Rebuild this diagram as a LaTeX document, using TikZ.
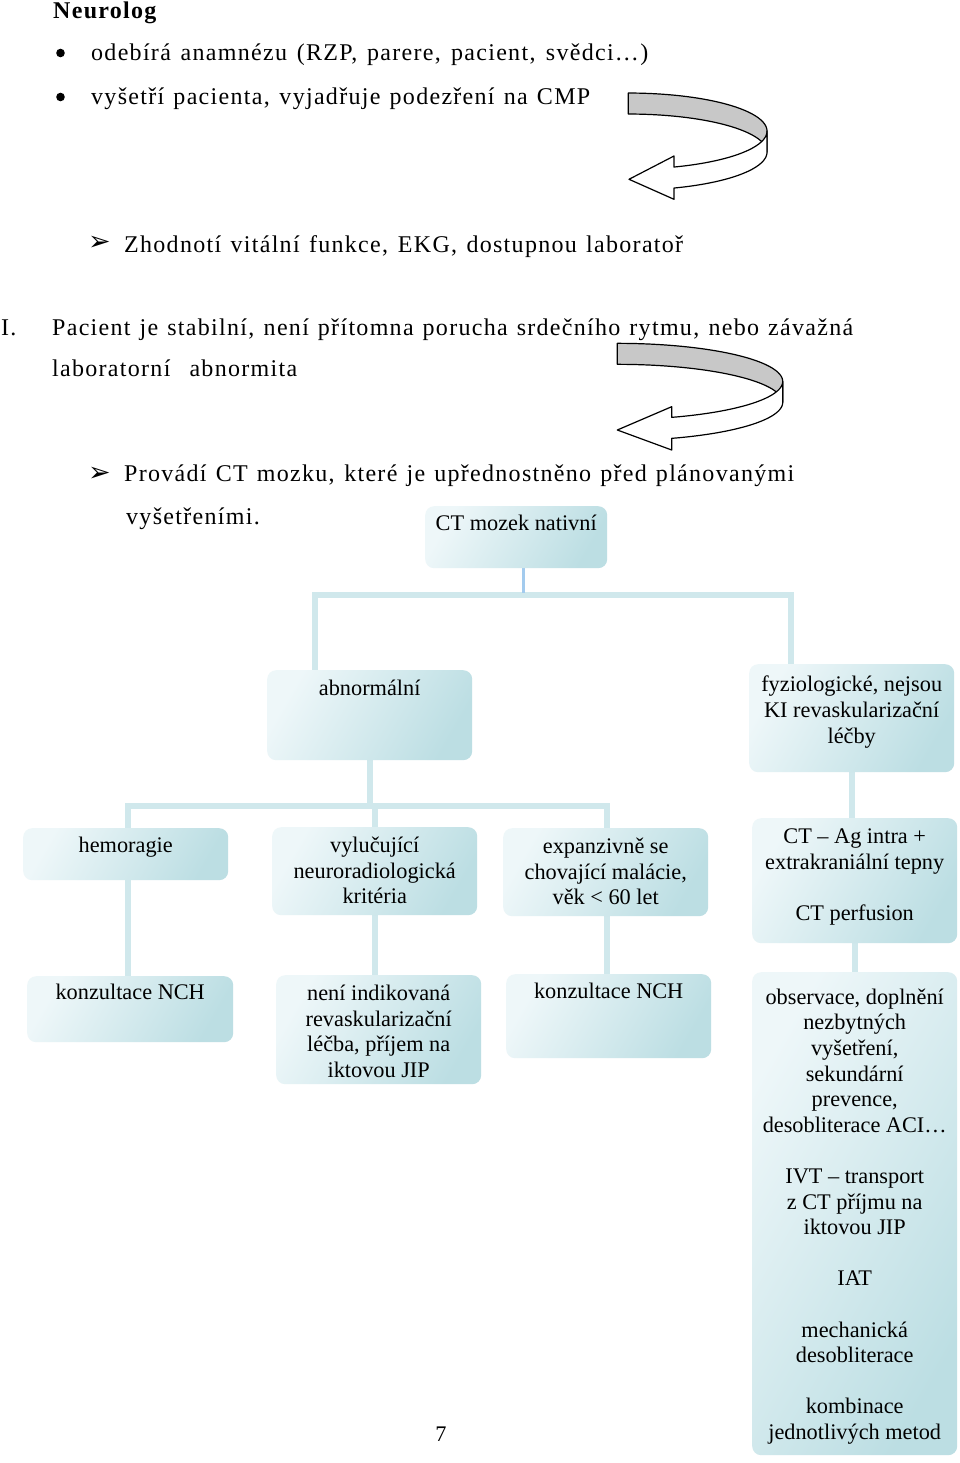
\documentclass[tikz,border=0pt]{standalone}
\usepackage{fontspec}
\setmainfont{Liberation Serif}
\newfontfamily\topfont[LetterSpace=5.4]{Liberation Serif}
\newfontfamily\symfont{DejaVu Sans}
\usetikzlibrary{backgrounds}
\definecolor{boxL}{HTML}{EEF7F9}
\definecolor{boxD}{HTML}{BCDEE3}
\definecolor{connc}{HTML}{D0E8EC}
\definecolor{stemc}{HTML}{A3CBEE}
\definecolor{arrowgray}{HTML}{C8C8C8}
\tikzset{
  box/.style={rectangle, rounded corners=9pt, top color=boxL, bottom color=boxD,
    shading angle=60, inner sep=0pt, anchor=north west},
  treetext/.style={anchor=north, align=center, inner sep=0pt,
    font={\fontsize{22.3}{25.6}\selectfont}},
  toptext/.style={anchor=base west, inner sep=0pt,
    font={\topfont\fontsize{24}{28}\selectfont}},
  arrowbullet/.style={anchor=center, inner sep=0pt,
    font={\symfont\fontsize{27}{30}\selectfont}},
  connline/.style={draw=connc, line width=6pt},
  stemline/.style={draw=stemc, line width=3pt},
  ribbon/.style={draw=black, line width=1.2pt, line join=round},
}
\newcommand\tbox[7]{%
  \node[box, minimum width=#4pt, minimum height=#5pt] (#1) at (#2,#3) {};
  \node[treetext] (#1-t) at ([yshift=-#6pt]#1.north) {#7};}
\begin{document}
\begin{tikzpicture}[x=1pt,y=-1pt]
\useasboundingbox (0,0) rectangle (960,1463);
% ---------- top text ----------
\node[toptext] (neuro) at (53,19) {\bfseries Neurolog};
\fill (60.5,53) circle (4.3);
\fill (60.5,97) circle (4.3);
\node[toptext] (l1) at (91,60.5) {\makebox[557pt][s]{odebírá anamnézu (RZP, parere, pacient, svědci…)}};
\node[toptext] (l2) at (91,104.5) {\makebox[499pt][s]{vyšetří pacienta, vyjadřuje podezření na CMP}};
\node[arrowbullet] (ar1) at (99.5,243) {➢};
\node[toptext] (l3) at (124,252) {\makebox[559pt][s]{Zhodnotí vitální funkce, EKG, dostupnou laboratoř}};
\node[toptext] (rom) at (1,335) {I.};
\node[toptext] (l4) at (52,335) {\makebox[801pt][s]{Pacient je stabilní, není přítomna porucha srdečního rytmu, nebo závažná}};
\node[toptext] (l5) at (52,376) {\makebox[245pt][s]{laboratorní abnormita}};
\node[arrowbullet] (ar2) at (99.5,474) {➢};
\node[toptext] (l6) at (124,481.5) {\makebox[670pt][s]{Provádí CT mozku, které je upřednostněno před plánovanými}};
\node[toptext] (l7) at (126,524.5) {vyšetřeními.};
% ---------- curved arrows ----------
\filldraw[fill=arrowgray, ribbon]
  plot[domain=90:0, samples=40, variable=\t] ({628.3+138.7*cos(\t)},{131.1-38.07*sin(\t)})
  -- plot[domain=0:90, samples=40, variable=\t] ({628.3+138.7*cos(\t)},{152.1-38.07*sin(\t)}) -- cycle;
\filldraw[fill=white, ribbon]
  plot[domain=0:-70.8, samples=40, variable=\t] ({628.3+138.7*cos(\t)},{131.1-38.07*sin(\t)})
  -- (674,156) -- (629,179.3) -- (674,199.3)
  -- plot[domain=-70.8:0, samples=40, variable=\t] ({628.3+138.7*cos(\t)},{152.1-38.07*sin(\t)}) -- cycle;
\filldraw[fill=arrowgray, ribbon]
  plot[domain=90:0, samples=40, variable=\t] ({617.3+165.4*cos(\t)},{381.4-38.07*sin(\t)})
  -- plot[domain=0:90, samples=40, variable=\t] ({617.3+165.4*cos(\t)},{402.4-38.07*sin(\t)}) -- cycle;
\filldraw[fill=white, ribbon]
  plot[domain=0:-70.8, samples=40, variable=\t] ({617.3+165.4*cos(\t)},{381.4-38.07*sin(\t)})
  -- (671.7,406.7) -- (617.3,430) -- (671.7,450)
  -- plot[domain=-70.8:0, samples=40, variable=\t] ({617.3+165.4*cos(\t)},{402.4-38.07*sin(\t)}) -- cycle;
% ---------- tree boxes ----------
\tbox{ct}{425}{506}{182}{62}{8.8}{CT mozek nativní}
\tbox{abn}{267}{670}{205}{90}{10}{abnormální}
\tbox{fyz}{749}{664}{205}{108}{12}{fyziologické, nejsou\\KI revaskularizační\\léčby}
\tbox{hem}{23}{828}{205}{52}{9}{hemoragie}
\tbox{vyl}{272}{827}{205}{88}{10}{vylučující\\neuroradiologická\\kritéria}
\tbox{exp}{503}{828}{205}{88}{10}{expanzivně se\\chovající malácie,\\věk < 60 let}
\tbox{cta}{752}{818}{205}{125}{10.5}{CT – Ag intra +\\extrakraniální tepny\\[25.6pt]CT perfusion}
\tbox{kon1}{27}{976}{206}{66}{8.3}{konzultace NCH}
\tbox{nen}{276}{975}{205}{109}{10}{není indikovaná\\revaskularizační\\léčba, příjem na\\iktovou JIP}
\tbox{kon2}{506}{974}{205}{84}{9}{konzultace NCH}
\tbox{obs}{752}{972}{205}{483}{16.5}{observace, doplnění\\nezbytných\\vyšetření,\\sekundární\\prevence,\\desobliterace ACI…\\[25.6pt]IVT – transport\\z CT příjmu na\\iktovou JIP\\[25.6pt]IAT\\[25.6pt]mechanická\\desobliterace\\[25.6pt]kombinace\\jednotlivých metod}
\node[anchor=base, inner sep=0pt, font={\fontsize{22.3}{25.6}\selectfont}] (pg) at (441,1441) {7};
% ---------- connectors ----------
\begin{scope}[on background layer]
\fill[white] (0,0) rectangle (960,1463);
\coordinate (bus1) at (523,595);
\coordinate (bus2) at (370,806);
\draw[connline] ([xshift=-54.5pt]abn.north) |- (bus1) -| ([xshift=-60.5pt]fyz.north);
\draw[stemline] ([xshift=7pt]ct.south) -- ++(0,25);
\draw[connline] (abn.south) -- (abn.south |- bus2);
\draw[connline] ([xshift=2.5pt]hem.north) |- (bus2) -| ([xshift=1.5pt]exp.north);
\draw[connline] (bus2 -| vyl.north) -- (vyl.north);
\draw[connline] ([xshift=2.5pt]hem.south) -- ([xshift=2.5pt]hem.south |- kon1.north);
\draw[connline] (vyl.south) -- (vyl.south |- nen.north);
\draw[connline] ([xshift=1.5pt]exp.south) -- ([xshift=1.5pt]exp.south |- kon2.north);
\draw[connline] (fyz.south) -- (fyz.south |- cta.north);
\draw[connline] (cta.south) -- (cta.south |- obs.north);
\end{scope}
\end{tikzpicture}
\end{document}
